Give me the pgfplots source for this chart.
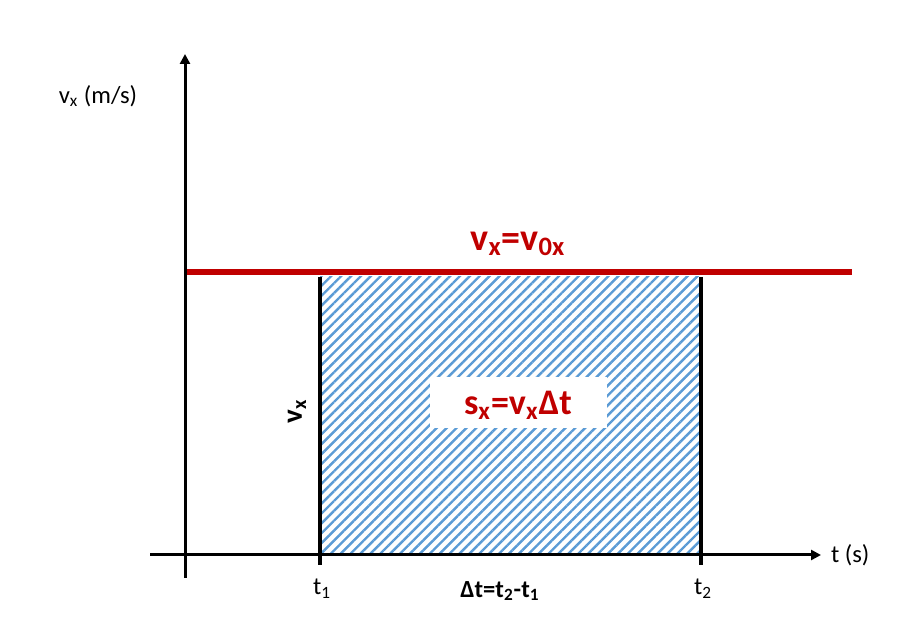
\documentclass[border=0pt]{standalone}
\usepackage{fontspec}
\setmainfont{Carlito}
\usepackage{pgfplots}
\pgfplotsset{compat=1.18}
\usetikzlibrary{patterns.meta,arrows.meta}
\definecolor{dred}{HTML}{C00000}
\definecolor{hatch}{HTML}{5B9BD5}
\begin{document}
\begin{tikzpicture}
\begin{axis}[
    scale only axis,
    width=455.5pt, height=318.5pt,
    xmin=0, xmax=911, ymin=0, ymax=637,
    hide axis, clip=false,
]
% frame of the picture, so the page has the reference's size
\addplot[draw=none] coordinates {(0,0)(911,637)};
% area under the line between t1 and t2
\addplot[draw=none, pattern={Lines[angle=45,distance=3.5pt,line width=1.2pt]}, pattern color=hatch]
    coordinates {(320,82)(701,82)(701,360)(320,360)} --cycle;
\addplot[draw=none, fill=white] coordinates {(430,209)(607,209)(607,260)(430,260)} --cycle;
% t1 and t2
\addplot[black, line width=1.6pt] coordinates {(320,360)(320,72)};
\addplot[black, line width=1.6pt] coordinates {(701,360)(701,72)};
% v_x = v_0x
\addplot[dred, line width=3pt] coordinates {(185,365)(852,365)};
% axes
\addplot[black, line width=1.5pt, -{Triangle[length=5pt,width=5pt]}] coordinates {(150,82)(821,82)};
\addplot[black, line width=1.5pt, -{Triangle[length=5pt,width=5pt]}] coordinates {(185,59)(185,583)};
% labels
\node[font=\fontsize{12.3}{14}\selectfont] at (axis cs:98,541) {v\textsubscript{x} (m/s)};
\node[font=\fontsize{12.3}{14}\selectfont, anchor=west] at (axis cs:824,82) {t (s)};
\node[font=\fontsize{12.3}{14}\selectfont] at (axis cs:322,48) {t\textsubscript{1}};
\node[font=\fontsize{12.3}{14}\selectfont] at (axis cs:703,48) {t\textsubscript{2}};
\node[font=\fontsize{12.3}{14}\selectfont\bfseries] at (axis cs:500,46) {Δt=t\textsubscript{2}-t\textsubscript{1}};
\node[font=\fontsize{14.5}{16}\selectfont\bfseries, rotate=90] at (axis cs:297,226) {v\textsubscript{x}};
\node[font=\fontsize{19}{22}\selectfont\bfseries, text=dred] at (axis cs:518,393) {v\textsubscript{x}=v\textsubscript{0x}};
\node[font=\fontsize{18}{22}\selectfont\bfseries, text=dred] at (axis cs:518,232) {s\textsubscript{x}=v\textsubscript{x}Δt};
\end{axis}
\end{tikzpicture}
\end{document}
